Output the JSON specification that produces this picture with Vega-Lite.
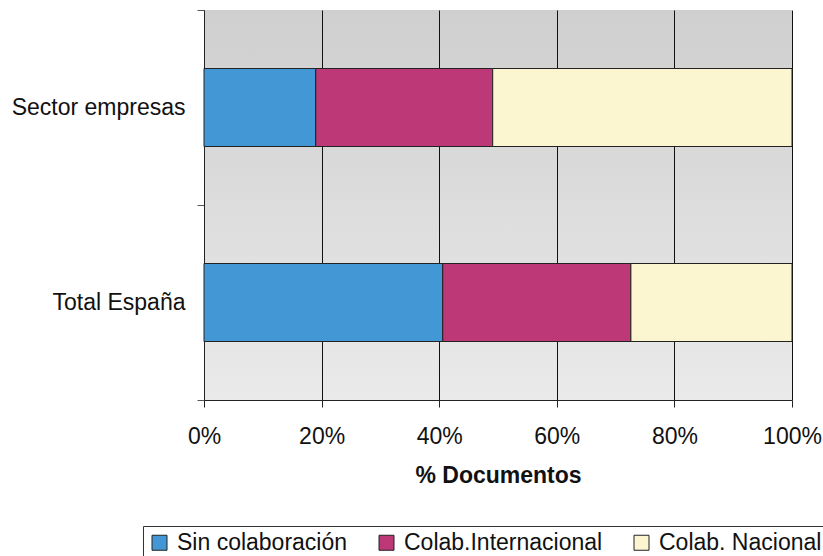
{
  "$schema": "https://vega.github.io/schema/vega-lite/v6.json",
  "width": 588,
  "height": 390,
  "autosize": "none",
  "padding": {"left": 204, "top": 10, "right": 31, "bottom": 156},
  "background": "#ffffff",
  "config": {
    "font": "Liberation Sans",
    "view": {
      "stroke": null,
      "fill": {"gradient": "linear", "x1": 0, "y1": 0, "x2": 0, "y2": 1,
        "stops": [{"offset": 0, "color": "#cfcfcf"}, {"offset": 1, "color": "#eaeaea"}]}
    }
  },
  "data": {
    "values": [
      {"grupo": "Sector empresas", "tipo": "Sin colaboración", "pct": 19.0},
      {"grupo": "Sector empresas", "tipo": "Colab.Internacional", "pct": 30.1},
      {"grupo": "Sector empresas", "tipo": "Colab. Nacional", "pct": 50.9},
      {"grupo": "Total España", "tipo": "Sin colaboración", "pct": 40.6},
      {"grupo": "Total España", "tipo": "Colab.Internacional", "pct": 32.0},
      {"grupo": "Total España", "tipo": "Colab. Nacional", "pct": 27.4}
    ]
  },
  "mark": {"type": "bar", "stroke": "#222222", "strokeWidth": 1, "height": {"band": 0.4}},
  "encoding": {
    "y": {
      "field": "grupo",
      "type": "nominal",
      "sort": ["Sector empresas", "Total España"],
      "scale": {"paddingInner": 0, "paddingOuter": 0},
      "axis": {
        "title": null,
        "tickBand": "extent",
        "tickSize": 7,
        "tickColor": "#555555",
        "domainColor": "#222222",
        "labelFontSize": 23,
        "labelColor": "#111111",
        "labelPadding": 12,
        "labelLimit": 300,
        "grid": false
      }
    },
    "x": {
      "field": "pct",
      "type": "quantitative",
      "stack": "zero",
      "scale": {"domain": [0, 100], "nice": false},
      "axis": {
        "title": "% Documentos",
        "titleFontSize": 23,
        "titleFontWeight": "bold",
        "titleColor": "#111111",
        "titlePadding": 16,
        "values": [0, 20, 40, 60, 80, 100],
        "labelExpr": "datum.value + '%'",
        "labelFlush": false,
        "labelFontSize": 23,
        "labelColor": "#111111",
        "labelPadding": 18,
        "tickSize": 7,
        "tickColor": "#222222",
        "domainColor": "#222222",
        "grid": true,
        "gridColor": "#111111",
        "gridOpacity": 1
      }
    },
    "color": {
      "field": "tipo",
      "type": "nominal",
      "sort": ["Sin colaboración", "Colab.Internacional", "Colab. Nacional"],
      "scale": {
        "domain": ["Sin colaboración", "Colab.Internacional", "Colab. Nacional"],
        "range": ["#4497d5", "#bc3876", "#fbf6d0"]
      },
      "legend": {
        "title": null,
        "orient": "none",
        "direction": "horizontal",
        "legendX": -61,
        "legendY": 516,
        "symbolType": "square",
        "symbolSize": 225,
        "symbolStrokeColor": "#222222",
        "symbolStrokeWidth": 1,
        "labelFontSize": 23,
        "labelColor": "#111111",
        "labelLimit": 400,
        "labelOffset": 6,
        "columnPadding": 27,
        "padding": 5,
        "strokeColor": "#333333",
        "fillColor": "#ffffff"
      }
    },
    "order": {"field": "tipo", "sort": "descending"}
  }
}
